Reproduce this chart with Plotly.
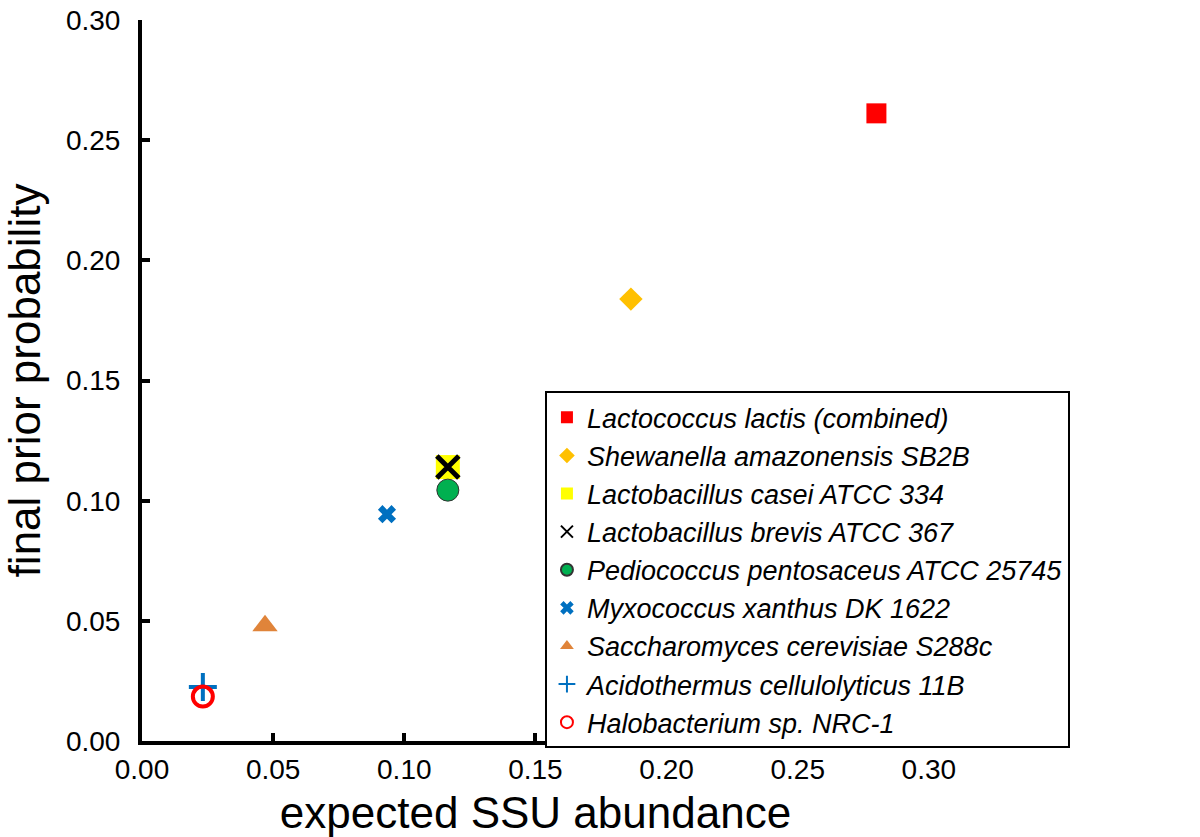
import plotly.graph_objects as go

names = [
    "Lactococcus lactis (combined)",
    "Shewanella amazonensis SB2B",
    "Lactobacillus casei ATCC 334",
    "Lactobacillus brevis ATCC 367",
    "Pediococcus pentosaceus ATCC 25745",
    "Myxococcus xanthus DK 1622",
    "Saccharomyces cerevisiae S288c",
    "Acidothermus cellulolyticus 11B",
    "Halobacterium sp. NRC-1",
]
x_vals = [0.280, 0.1864, 0.1166, 0.1166, 0.1166, 0.0934, 0.0469, 0.0232, 0.0232]
y_vals = [0.2612, 0.1839, 0.1140, 0.1140, 0.1044, 0.0944, 0.0480, 0.0225, 0.0185]
tick_vals = [0.00, 0.05, 0.10, 0.15, 0.20, 0.25, 0.30]

styles = [
    dict(symbol="square", color="#ff0000", size=20, line=dict(width=0)),
    dict(symbol="diamond", color="#ffc000", size=18, line=dict(width=0)),
    dict(symbol="square", color="#ffff00", size=24, line=dict(width=0)),
    dict(symbol="x-thin", color="#000000", size=22, line=dict(width=5, color="#000000")),
    dict(symbol="circle", color="#00b050", size=22, line=dict(width=1, color="#333333")),
    dict(symbol="x", color="#0070c0", size=16, line=dict(width=0)),
    dict(symbol="triangle-up", color="#e0843a", size=22, line=dict(width=0)),
    dict(symbol="cross-thin", color="#0070c0", size=20, line=dict(width=4, color="#0070c0")),
    dict(symbol="circle-open", color="#ff0000", size=20, line=dict(width=4, color="#ff0000")),
]

fig = go.Figure()
for i, n in enumerate(names):
    fig.add_trace(go.Scatter(
        x=[x_vals[i]], y=[y_vals[i]], mode="markers", name=n,
        marker=styles[i], cliponaxis=False,
    ))

FONT = "Liberation Sans, Arial"
axis_common = dict(
    range=[0, 0.30005], tickvals=tick_vals, tickformat=".2f",
    showline=True, linewidth=4, linecolor="black",
    ticks="inside", ticklen=8, tickwidth=4, tickcolor="black",
    showgrid=False, zeroline=False, automargin=False,
    tickfont=dict(family=FONT, size=28, color="black"),
)

fig.update_layout(
    width=1200, height=837,
    margin=dict(l=142, r=271, t=20, b=96),
    paper_bgcolor="white", plot_bgcolor="white",
    xaxis=dict(**axis_common, ticklabelstandoff=0,
               title=dict(text="expected SSU abundance",
                          font=dict(family=FONT, size=44, color="black"), standoff=18)),
    yaxis=dict(**axis_common, ticklabelstandoff=12,
               title=dict(text="final prior probability",
                          font=dict(family=FONT, size=44, color="black"), standoff=23)),
    showlegend=True,
    legend=dict(
        x=0.512, y=0.485, xanchor="left", yanchor="top",
        bordercolor="black", borderwidth=2, bgcolor="white",
        font=dict(family=FONT, size=27, color="black", style="italic"),
        itemwidth=30, tracegroupgap=0, itemsizing="constant",
    ),
)

# remove the page's default 8px body margin so the figure sits at (0, 0)
fig.write_html("out.html", config={"displayModeBar": False},
               post_script="document.body.style.margin='0';")
